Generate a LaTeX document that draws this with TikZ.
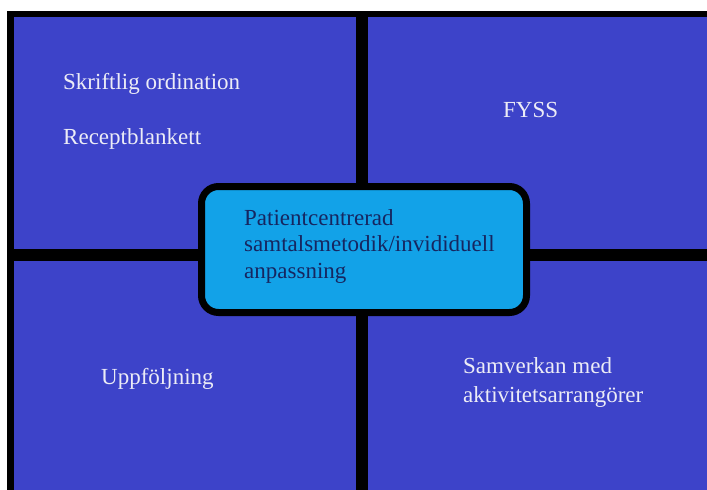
\documentclass[tikz,border=0pt]{standalone}
\usepackage{fontspec}
\setmainfont{Liberation Serif}
\usepackage{xcolor}
\definecolor{quadblue}{RGB}{61,67,201}
\definecolor{midblue}{RGB}{18,162,232}
\definecolor{midtext}{RGB}{22,38,96}
\definecolor{quadtext}{RGB}{236,236,246}
\usepackage{tikz}
\usetikzlibrary{positioning}

\begin{document}
\begin{tikzpicture}[x=1pt, y=-1pt, every node/.style={font=\fontsize{23}{29}\selectfont, inner sep=0pt},
  quadlabel/.style={text=quadtext, anchor=base west, align=left},
  divider/.style={black, line width=12pt}]
  \useasboundingbox (0,0) rectangle (707,490);
  \fill[white] (0,0) rectangle (707,490);
  \fill[quadblue] (14,17) rectangle (707,490);
  % outer frame (top and left only) and cross dividers
  \fill[black] (7,11) rectangle (707,17);
  \fill[black] (7,11) rectangle (14,490);
  \draw[divider] (362,17) -- (362,490);
  \draw[divider] (14,254.5) -- (707,254.5);
  % centre box
  \node[draw=black, line width=7pt, fill=midblue, rounded corners=17pt, minimum width=325pt, minimum height=126pt] (mid) at (364,249.5) {};
  \node[text=midtext, anchor=base west, align=left, font=\fontsize{23}{26.5}\selectfont] (midlabel) at (244,278) {Patientcentrerad\\samtalsmetodik/invididuell\\anpassning};
  % quadrant texts
  \node[quadlabel] (ordination) at (63,89) {Skriftlig ordination};
  \node[quadlabel] (recept) at (63,144) {Receptblankett};
  \node[quadlabel] (fyss) at (503,117) {FYSS};
  \node[quadlabel] (uppfoljning) at (101,384) {Uppföljning};
  \node[quadlabel] (samverkan) at (463,402) {Samverkan med\\aktivitetsarrangörer};
\end{tikzpicture}
\end{document}
